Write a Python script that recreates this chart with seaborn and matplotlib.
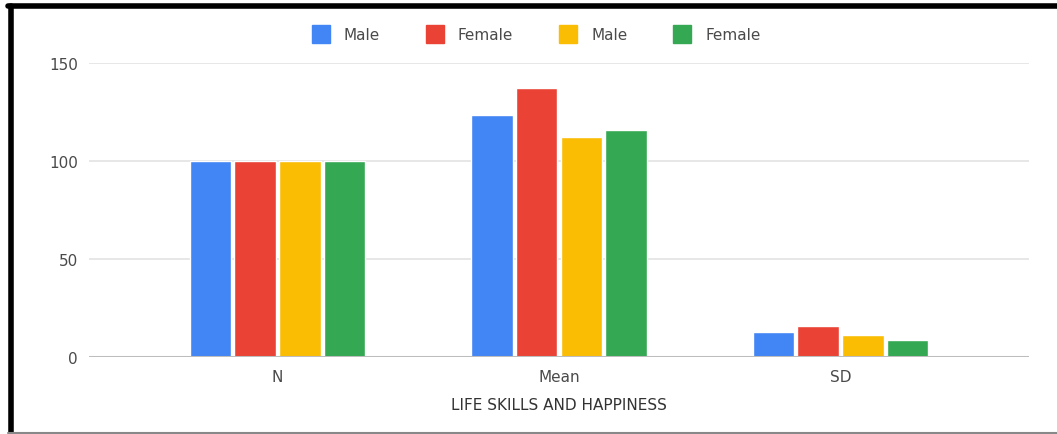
import matplotlib
matplotlib.use("Agg")
import matplotlib.pyplot as plt
import seaborn as sns
import pandas as pd
from matplotlib.lines import Line2D

categories = ["N", "Mean", "SD"]
series_keys = ["LS Male", "LS Female", "H Male", "H Female"]
legend_labels = ["Male", "Female", "Male", "Female"]
ls_male = [100, 123.6, 12.9]
ls_female = [100, 137.0, 16.0]
h_male = [100, 112.4, 11.2]
h_female = [100, 115.8, 8.8]
colors = ["#4285F4", "#EA4335", "#FBBC04", "#34A853"]
yticks = [0, 50, 100, 150]
xlabel = "LIFE SKILLS AND HAPPINESS"

rows = []
for key, vals in zip(series_keys, [ls_male, ls_female, h_male, h_female]):
    for c, v in zip(categories, vals):
        rows.append({"category": c, "series": key, "value": v})
df = pd.DataFrame(rows)

sns.set_theme(style="white")
plt.rcParams["font.family"] = ["DejaVu Sans"]

fig = plt.figure(figsize=(10.57, 4.35), dpi=100)
ax = fig.add_axes([89/1057, 77/435, (1029-89)/1057, (358-64)/435])

sns.barplot(data=df, x="category", y="value", hue="series", order=categories,
            hue_order=series_keys, palette=colors, width=0.635, gap=0.07,
            saturation=1, legend=False, ax=ax)

ax.set_ylim(0, 150)
ax.set_xlim(-0.67, 2.67)
ax.set_yticks(yticks)
ax.set_yticklabels([str(t) for t in yticks])
ax.yaxis.grid(True, color="#e3e3e3", linewidth=1.2)
ax.set_axisbelow(True)
for s in ["top", "right", "left", "bottom"]:
    ax.spines[s].set_visible(False)
ax.axhline(0, color="#bdbdbd", linewidth=2.2, zorder=5)
ax.tick_params(axis="both", length=0, colors="#4a4a4a", labelsize=11)
ax.tick_params(axis="y", pad=8)
ax.tick_params(axis="x", pad=9)
ax.set_ylabel("")
ax.set_xlabel(xlabel, fontsize=11, color="#333333", labelpad=9)

handles = [Line2D([0], [0], marker="s", linestyle="", markersize=13,
                  markerfacecolor=c, markeredgecolor=c) for c in colors]
fig.legend(handles, legend_labels, loc="center", ncol=4,
           bbox_to_anchor=(536/1057, 1 - 36/435), frameon=False,
           fontsize=11, labelcolor="#4a4a4a", handletextpad=0.9,
           columnspacing=3.0, handlelength=1.2)

# frame lines of the screenshot
fig.add_artist(Line2D([8/1057, 1.0], [1 - 6.5/435, 1 - 6.5/435], color="black",
                      linewidth=4, transform=fig.transFigure))
fig.add_artist(Line2D([10.5/1057, 10.5/1057], [0, 1 - 6.5/435], color="black",
                      linewidth=4, transform=fig.transFigure))
fig.add_artist(Line2D([8/1057, 1.0], [1.5/435, 1.5/435], color="#888888",
                      linewidth=1.5, transform=fig.transFigure))

fig.savefig("out.png", dpi=100)
